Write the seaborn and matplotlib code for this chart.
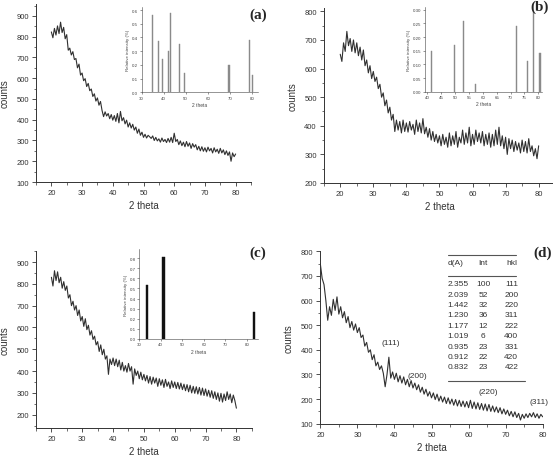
import numpy as np
import matplotlib
matplotlib.use("Agg")
import matplotlib.pyplot as plt
import seaborn as sns
from matplotlib.ticker import MultipleLocator, AutoMinorLocator

# XRD patterns, 2 theta from 20 to 80 in steps of 0.5
counts_a = [823, 795, 840, 808, 852, 815, 870, 820, 845, 790, 810, 735, 745, 712, 728, 690,
            695, 650, 668, 615, 625, 588, 598, 560, 575, 540, 548, 512, 525, 490, 505, 470,
            488, 445, 415, 438, 418, 430, 405, 425, 398, 420, 392, 430, 385, 440, 395, 410,
            380, 398, 365, 385, 360, 378, 350, 365, 335, 355, 325, 340, 315, 330, 312, 325,
            318, 310, 322, 300, 315, 298, 308, 292, 312, 295, 305, 290, 310, 292, 315, 290,
            335, 295, 305, 280, 298, 275, 292, 270, 295, 272, 288, 262, 285, 268, 280, 255,
            272, 250, 270, 248, 265, 245, 268, 250, 262, 240, 265, 245, 258, 238, 262, 240,
            255, 232, 250, 228, 245, 200, 240, 222, 235]
counts_b = [650, 625, 690, 660, 730, 680, 705, 660, 700, 655, 690, 645, 675, 630, 665, 610,
            630, 585, 610, 565, 590, 555, 570, 530, 545, 500, 515, 470, 490, 445, 465, 420,
            440, 380, 420, 385, 415, 375, 420, 380, 410, 378, 415, 385, 405, 370, 420, 380,
            410, 375, 425, 372, 395, 360, 390, 350, 380, 345, 370, 340, 365, 330, 370, 335,
            360, 325, 375, 330, 365, 335, 380, 325, 360, 340, 385, 335, 375, 340, 395, 330,
            370, 335, 385, 345, 375, 340, 380, 330, 370, 335, 375, 325, 370, 330, 385, 335,
            395, 330, 365, 320, 360, 300, 355, 320, 350, 310, 345, 315, 340, 305, 350, 310,
            345, 305, 355, 310, 330, 295, 320, 285, 330]
counts_c = [830, 790, 860, 815, 855, 805, 830, 780, 810, 770, 790, 735, 750, 700, 720, 680,
            700, 655, 680, 630, 650, 605, 640, 590, 610, 565, 585, 545, 560, 520, 535, 490,
            520, 475, 500, 455, 470, 385, 455, 430, 460, 425, 455, 420, 450, 405, 440, 400,
            425, 395, 435, 400, 420, 340, 410, 380, 400, 365, 395, 360, 385, 355, 380, 345,
            375, 340, 372, 345, 368, 330, 365, 335, 360, 325, 362, 330, 350, 320, 355, 325,
            350, 320, 348, 318, 345, 315, 340, 310, 338, 305, 335, 300, 330, 298, 328, 295,
            325, 290, 322, 288, 318, 285, 312, 280, 310, 275, 305, 270, 300, 262, 298, 258,
            295, 265, 305, 270, 295, 255, 290, 265, 230]
counts_d = [750, 690, 665, 600, 520, 575, 540, 605, 560, 615, 545, 575, 530, 555, 510, 535,
            490, 515, 480, 505, 470, 490, 450, 460, 415, 430, 390, 400, 360, 380, 335, 350,
            320, 335, 305, 250, 300, 370, 285, 310, 280, 305, 270, 295, 265, 290, 258, 280,
            250, 275, 245, 265, 238, 258, 228, 248, 220, 240, 212, 230, 205, 225, 198, 220,
            192, 212, 188, 208, 182, 205, 180, 200, 175, 198, 172, 195, 170, 192, 168, 190,
            165, 195, 162, 188, 160, 185, 158, 182, 155, 180, 152, 178, 150, 172, 148, 168,
            145, 165, 140, 160, 138, 155, 132, 150, 128, 148, 125, 142, 115, 138, 122, 140,
            125, 142, 128, 145, 125, 140, 122, 138, 128]

# reference peaks for the insets
peaks_a = [35.0, 37.6, 39.6, 42.0, 43.0, 47.0, 49.4, 69.7, 78.8, 80.2]
rel_a = [0.563, 0.371, 0.24, 0.30, 0.58, 0.35, 0.14, 0.20, 0.38, 0.128]
peaks_b = [41.6, 49.8, 53.0, 57.3, 72.1, 76.1, 78.2, 80.6]
rel_b = [0.15, 0.171, 0.26, 0.03, 0.241, 0.111, 0.29, 0.141]
peaks_c = [33.7, 41.3, 83.3]
rel_c = [0.53, 0.815, 0.263]

# table of panel (d)
d_values = ["2.355", "2.039", "1.442", "1.230", "1.177", "1.019", "0.935", "0.912", "0.832"]
int_values = ["100", "52", "32", "36", "12", "6", "23", "22", "23"]
hkl_values = ["111", "200", "220", "311", "222", "400", "331", "420", "422"]
hkl_labels = ["(111)", "(200)", "(220)", "(311)"]
hkl_label_pos = [(39.1, 429), (46.3, 295), (65.3, 232), (79.1, 192)]

sns.set_style("ticks")
plt.rcParams['font.family'] = ['Liberation Sans', 'DejaVu Sans']

W, H = 553, 456
fig = plt.figure(figsize=(W / 100, H / 100), dpi=100)


def px_axes(left, top, right, bottom):
    return fig.add_axes([left / W, 1 - bottom / H, (right - left) / W, (bottom - top) / H])


def style_main(ax, xlim, ylim, ystep):
    ax.set_xlim(*xlim)
    ax.set_ylim(*ylim)
    ax.xaxis.set_major_locator(MultipleLocator(10))
    ax.yaxis.set_major_locator(MultipleLocator(ystep))
    ax.xaxis.set_minor_locator(AutoMinorLocator(2))
    ax.yaxis.set_minor_locator(AutoMinorLocator(2))
    ax.tick_params(which='major', labelsize=5.5, length=3, width=0.6, colors='#333333', pad=2)
    ax.tick_params(which='minor', length=1.8, width=0.5, colors='#333333')
    ax.set_xlabel("2 theta", fontsize=7, color='#333333', labelpad=3)
    ax.set_ylabel("counts", fontsize=7, color='#333333', labelpad=5)
    for s in ('left', 'bottom'):
        ax.spines[s].set_linewidth(0.7)
        ax.spines[s].set_color('#333333')
    sns.despine(ax=ax)


def draw_curve(ax, counts):
    theta = np.linspace(20, 80, len(counts))
    sns.lineplot(x=theta, y=counts, ax=ax, color='#303030', linewidth=0.8)


def draw_inset(ax, peaks, rel, xlim, ylim, xstep, ystep, fmt, width, color):
    ax.bar(peaks, rel, width=width, color=color, edgecolor=color, linewidth=0.3)
    ax.set_xlim(*xlim)
    ax.set_ylim(*ylim)
    ax.xaxis.set_major_locator(MultipleLocator(xstep))
    ax.yaxis.set_major_locator(MultipleLocator(ystep))
    ax.yaxis.set_major_formatter(plt.FormatStrFormatter(fmt))
    ax.tick_params(labelsize=3.2, length=1.5, width=0.4, pad=1, colors='#444444')
    ax.set_xlabel("2 theta", fontsize=3.5, labelpad=1.5, color='#444444')
    ax.set_ylabel("Relative intensity (%)", fontsize=3.2, labelpad=1.5, color='#444444')
    for s in ('left', 'bottom'):
        ax.spines[s].set_linewidth(0.4)
        ax.spines[s].set_color('#444444')
    sns.despine(ax=ax)
    ax.patch.set_alpha(0)


def panel_label(x, y, s):
    fig.text(x / W, 1 - y / H, s, fontsize=11, fontweight='bold',
             family='Liberation Serif', ha='center', va='center')


# (a)
ax_a = px_axes(36, 4.5, 251, 183)
draw_curve(ax_a, counts_a)
style_main(ax_a, (15, 85), (100, 960), 100)
ins_a = px_axes(141.7, 8, 258.3, 93.3)
draw_inset(ins_a, peaks_a, rel_a, (30, 83), (0, 0.622), 10, 0.1, '%.1f', 0.5, '#8a8a8a')
panel_label(258, 15, "(a)")

# (b)
ax_b = px_axes(323.7, 9.5, 555.2, 184)
draw_curve(ax_b, counts_b)
style_main(ax_b, (15, 85), (200, 810), 100)
ins_b = px_axes(425, 8, 542, 92.7)
draw_inset(ins_b, peaks_b, rel_b, (39.2, 81.3), (0, 0.31), 5, 0.05, '%.2f', 0.55, '#8a8a8a')
panel_label(540, 7, "(b)")

# (c)
ax_c = px_axes(36, 252.1, 251.8, 428.8)
draw_curve(ax_c, counts_c)
style_main(ax_c, (15, 85), (140, 950), 100)
ins_c = px_axes(139.3, 250, 257.7, 340)
draw_inset(ins_c, peaks_c, rel_c, (30, 85), (0, 0.89), 10, 0.1, '%.1f', 1.1, '#111111')
panel_label(258, 253, "(c)")

# (d)
ax_d = px_axes(320.3, 252.3, 542.7, 424.7)
draw_curve(ax_d, counts_d)
style_main(ax_d, (20, 80), (100, 800), 100)
for lab, (x, y) in zip(hkl_labels, hkl_label_pos):
    ax_d.text(x, y, lab, fontsize=6, ha='center', va='center', color='#333333')
panel_label(543, 253, "(d)")


# table drawn in figure pixels (y measured from top)
def tx(x, y, s, ha):
    fig.text(x / W, 1 - y / H, s, fontsize=6, ha=ha, va='center', color='#333333')


tx(447.7, 263.7, "d(A)", 'left')
tx(483, 263.7, "Int", 'center')
tx(517.5, 263.7, "hkl", 'right')
for i, (dv, iv, hv) in enumerate(zip(d_values, int_values, hkl_values)):
    y = 284.7 + i * 10.4
    tx(447.7, y, dv, 'left')
    tx(483, y, iv, 'center')
    tx(518.3, y, hv, 'right')
for (x0, x1, y) in [(447.7, 516, 256.3), (447.7, 516, 277.3), (447.7, 525.3, 382.3)]:
    fig.add_artist(plt.Line2D([x0 / W, x1 / W], [1 - y / H, 1 - y / H],
                              color='#555555', linewidth=0.8))

fig.savefig("out.png", dpi=100)
